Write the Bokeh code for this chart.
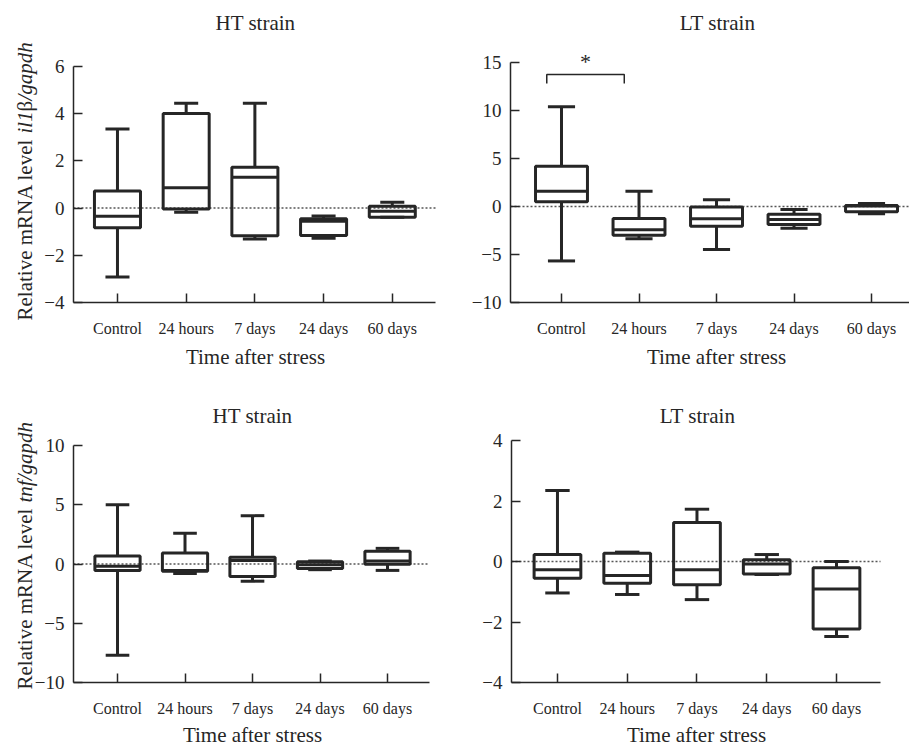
from bokeh.plotting import figure
from bokeh.models import Label, FixedTicker, Range1d, ColumnDataSource
from bokeh.layouts import column, row
from bokeh.embed import file_html
from bokeh.resources import INLINE

categories = ["Control", "24 hours", "7 days", "24 days", "60 days"]

# il1β / gapdh, HT strain
il1b_ht_low = [-2.92, -0.18, -1.31, -1.28, -0.39]
il1b_ht_q1 = [-0.83, -0.04, -1.17, -1.16, -0.39]
il1b_ht_med = [-0.35, 0.86, 1.31, -0.56, -0.13]
il1b_ht_q3 = [0.72, 4.01, 1.73, -0.45, 0.08]
il1b_ht_high = [3.35, 4.44, 4.44, -0.34, 0.25]

# il1β / gapdh, LT strain
il1b_lt_low = [-5.67, -3.35, -4.49, -2.27, -0.75]
il1b_lt_q1 = [0.49, -3.00, -2.07, -1.88, -0.55]
il1b_lt_med = [1.60, -2.42, -1.27, -1.36, 0.05]
il1b_lt_q3 = [4.20, -1.24, -0.06, -0.80, 0.10]
il1b_lt_high = [10.39, 1.60, 0.70, -0.30, 0.30]

# tnf / gapdh, HT strain
tnf_ht_low = [-7.69, -0.80, -1.45, -0.48, -0.54]
tnf_ht_q1 = [-0.54, -0.62, -1.05, -0.37, -0.03]
tnf_ht_med = [-0.20, -0.55, 0.30, -0.06, 0.25]
tnf_ht_q3 = [0.68, 0.93, 0.57, 0.20, 1.07]
tnf_ht_high = [5.00, 2.60, 4.08, 0.25, 1.32]

# tnf / gapdh, LT strain
tnf_lt_low = [-1.04, -1.09, -1.26, -0.43, -2.48]
tnf_lt_q1 = [-0.55, -0.72, -0.77, -0.41, -2.23]
tnf_lt_med = [-0.27, -0.46, -0.27, -0.08, -0.91]
tnf_lt_q3 = [0.23, 0.27, 1.29, 0.055, -0.21]
tnf_lt_high = [2.35, 0.31, 1.73, 0.23, 0.00]

il1b_ht_yticks = [-4, -2, 0, 2, 4, 6]
il1b_lt_yticks = [-10, -5, 0, 5, 10, 15]
tnf_ht_yticks = [-10, -5, 0, 5, 10]
tnf_lt_yticks = [-4, -2, 0, 2, 4]

# significance bracket (LT strain, il1β): Control vs 24 hours
sig_pair = ("Control", "24 hours")
sig_level = 13.75
sig_drop = 0.95
sig_mark = "*"

x_title = "Time after stress"

SERIF = "Liberation Serif"
INK = "#262626"
BOX_W = 0.67
CAP_W = 0.35


def make_panel(origin, size, frame, xr, yr, yticks, low, q1, med, q3, high):
    """frame = (left, right, top, bottom) of the axes box in window pixels.
    The plotting area covers the whole canvas; the axes are pinned (fixed_location)
    at the box edges and limited with bounds, so all texts can live inside it."""
    ox, oy = origin
    w, h = size
    fl, fr, ft, fb = frame
    xs_ = (fr - fl) / (xr[1] - xr[0])
    ys_ = (fb - ft) / (yr[1] - yr[0])
    x_lo = xr[0] - (fl - ox) / xs_
    x_hi = xr[1] + (ox + w - fr) / xs_
    y_lo = yr[0] - (oy + h - fb) / ys_
    y_hi = yr[1] + (ft - oy) / ys_
    p = figure(width=w, height=h, output_backend="svg", toolbar_location=None,
               x_range=Range1d(x_lo, x_hi), y_range=Range1d(y_lo, y_hi),
               min_border=0, min_border_left=0, min_border_right=0,
               min_border_top=0, min_border_bottom=0)
    p.outline_line_color = None
    p.grid.grid_line_color = None
    p.background_fill_color = "white"
    p.border_fill_color = "white"

    # dotted reference line at zero across the category span
    p.segment(x0=[xr[0]], x1=[xr[1]], y0=[0], y1=[0], line_dash="2 2",
              line_width=1.5, line_color="#555555")

    xs = list(range(len(categories)))
    src = ColumnDataSource(dict(
        x=xs, left=[x - BOX_W / 2 for x in xs], right=[x + BOX_W / 2 for x in xs],
        cl=[x - CAP_W / 2 for x in xs], cr=[x + CAP_W / 2 for x in xs],
        low=low, q1=q1, med=med, q3=q3, high=high))
    kw = dict(line_color=INK, line_width=3, source=src)
    p.segment(x0="x", y0="q3", x1="x", y1="high", **kw)
    p.segment(x0="x", y0="q1", x1="x", y1="low", **kw)
    p.segment(x0="cl", y0="high", x1="cr", y1="high", **kw)
    p.segment(x0="cl", y0="low", x1="cr", y1="low", **kw)
    p.quad(left="left", right="right", bottom="q1", top="q3", fill_color=None, **kw)
    p.segment(x0="left", y0="med", x1="right", y1="med", **kw)

    for ax in (p.xaxis, p.yaxis):
        ax.axis_line_color = INK
        ax.axis_line_width = 1.5
        ax.major_tick_line_color = INK
        ax.major_tick_line_width = 1.5
        ax.major_tick_in = 9
        ax.major_tick_out = 0
        ax.minor_tick_line_color = None
        ax.major_label_text_font = SERIF
        ax.major_label_text_color = INK
    p.xaxis.fixed_location = yr[0]
    p.xaxis.bounds = (xr[0], xr[1])
    p.yaxis.fixed_location = xr[0]
    p.yaxis.bounds = (yr[0], yr[1])
    p.xaxis.ticker = FixedTicker(ticks=xs)
    p.xaxis.major_label_overrides = {i: c for i, c in enumerate(categories)}
    p.xaxis.major_label_text_font_size = "16px"
    p.xaxis.major_label_standoff = 17
    p.yaxis.ticker = FixedTicker(ticks=yticks)
    p.yaxis.major_label_overrides = {t: (str(t) if t >= 0 else "\u2212" + str(-t)) for t in yticks}
    p.yaxis.major_label_text_font_size = "19px"
    p.yaxis.major_label_standoff = 9

    def conv(px, py):
        return (xr[0] + (px - fl) / xs_, yr[0] + (fb - py) / ys_)

    def text(px, py, t, size_px, align="center", style="normal", angle=0):
        # (px, py): middle of the text line, window pixels
        x, y = conv(px, py)
        p.add_layout(Label(x=x, y=y, text=t, text_font=SERIF, text_font_size=f"{size_px}px",
                           text_font_style=style, text_align=align,
                           text_baseline="middle", text_color=INK,
                           angle=angle, angle_units="deg"))
    return p, text


# ---- top row ----
p1, t1 = make_panel((0, 0), (450, 370), (73, 435, 66, 302), (-0.640, 4.629), (-4, 6),
                    il1b_ht_yticks, il1b_ht_low, il1b_ht_q1, il1b_ht_med, il1b_ht_q3,
                    il1b_ht_high)
t1(255, 22, "HT strain", 21)
t1(255, 356, x_title, 21)
t1(24, 320, "Relative mRNA level ", 21, align="left", angle=90)
t1(24, 133, "il1", 21, align="left", style="italic", angle=90)
t1(24, 111, "\u03b2", 21, align="left", angle=90)
t1(24, 100, "/gapdh", 21, align="left", style="italic", angle=90)

p2, t2 = make_panel((450, 0), (459, 370), (510, 909, 62, 302), (-0.658, 4.490), (-10, 15),
                    il1b_lt_yticks, il1b_lt_low, il1b_lt_q1, il1b_lt_med, il1b_lt_q3,
                    il1b_lt_high)
t2(717, 22, "LT strain", 21)
t2(716, 356, x_title, 21)
i0 = categories.index(sig_pair[0]) - 0.19
i1 = categories.index(sig_pair[1]) - 0.19
p2.line(x=[i0, i0, i1, i1], y=[sig_level - sig_drop, sig_level, sig_level, sig_level - sig_drop],
        line_color=INK, line_width=1.5)
t2(585, 61, sig_mark, 22)

# ---- bottom row ----
p3, t3 = make_panel((0, 370), (450, 376), (73, 429, 445, 682), (-0.652, 4.622), (-10, 10),
                    tnf_ht_yticks, tnf_ht_low, tnf_ht_q1, tnf_ht_med, tnf_ht_q3,
                    tnf_ht_high)
t3(252, 415, "HT strain", 21)
t3(252, 734, x_title, 21)
t3(24, 689, "Relative mRNA level ", 21, align="left", angle=90)
t3(24, 502, "tnf/gapdh", 21, align="left", style="italic", angle=90)

p4, t4 = make_panel((450, 370), (459, 376), (511, 880, 440, 682), (-0.659, 4.631), (-4, 4),
                    tnf_lt_yticks, tnf_lt_low, tnf_lt_q1, tnf_lt_med, tnf_lt_q3,
                    tnf_lt_high)
t4(697, 415, "LT strain", 21)
t4(696, 734, x_title, 21)

layout = column(row(p1, p2), row(p3, p4))
open("out.html", "w").write(file_html(layout, INLINE))
